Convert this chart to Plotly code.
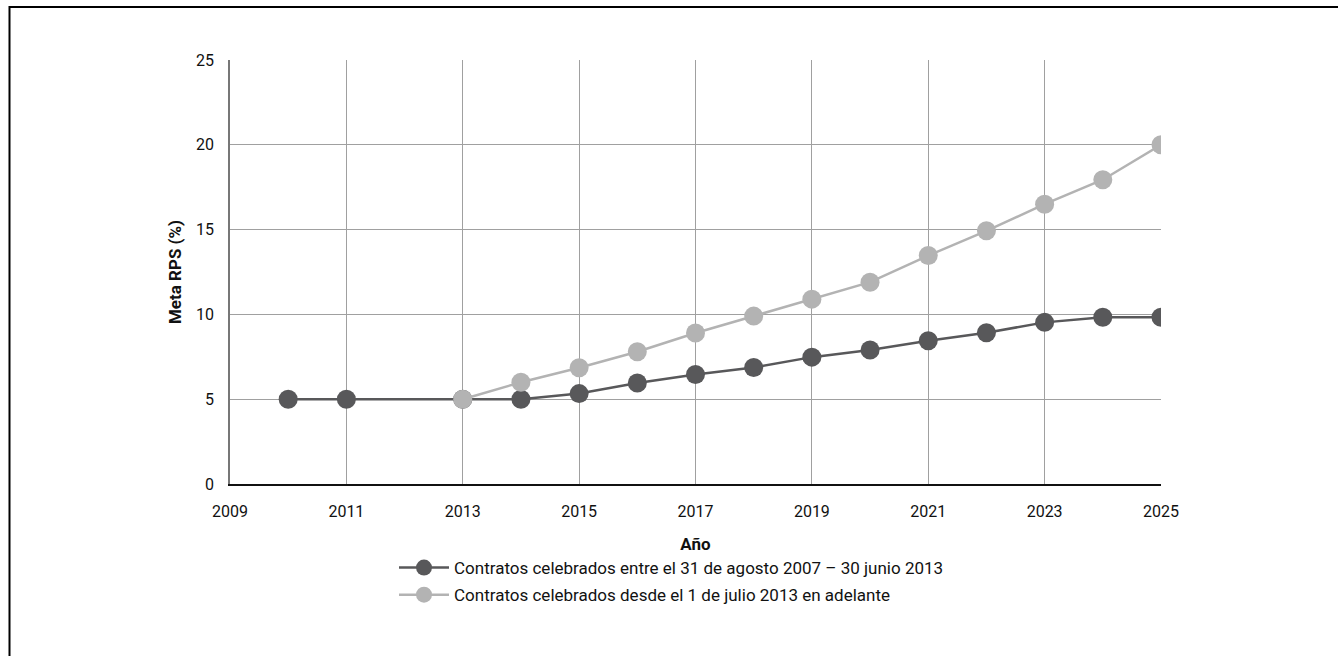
import plotly.graph_objects as go

years_a = [2010, 2011, 2013, 2014, 2015, 2016, 2017, 2018, 2019, 2020, 2021, 2022, 2023, 2024, 2025]
vals_a = [5.0, 5.0, 5.0, 5.0, 5.33, 5.96, 6.46, 6.87, 7.48, 7.9, 8.45, 8.92, 9.53, 9.83, 9.83]
years_b = [2013, 2014, 2015, 2016, 2017, 2018, 2019, 2020, 2021, 2022, 2023, 2024, 2025]
vals_b = [5.0, 6.0, 6.85, 7.8, 8.9, 9.9, 10.9, 11.9, 13.47, 14.93, 16.5, 17.94, 20.0]
name_a = "Contratos celebrados entre el 31 de agosto 2007 – 30 junio 2013"
name_b = "Contratos celebrados desde el 1 de julio 2013 en adelante"
x_ticks = [2009, 2011, 2013, 2015, 2017, 2019, 2021, 2023, 2025]
y_ticks = [0, 5, 10, 15, 20, 25]

FONT = "Roboto, Liberation Sans Narrow, DejaVu Sans Condensed, sans-serif"
DARK = "#58585a"
LIGHT = "#b3b3b3"

W, H = 1338, 656
L, R, T, B = 230, 177, 60, 172
pw, ph = W - L - R, H - T - B

fig = go.Figure()
fig.add_trace(go.Scatter(x=years_a, y=vals_a, name=name_a, mode="lines+markers",
                         legendgroup="a",
                         line=dict(color=DARK, width=2.5),
                         marker=dict(color=DARK, size=19)))
fig.add_trace(go.Scatter(x=years_b, y=vals_b, name=name_b, mode="lines+markers",
                         legendgroup="b",
                         line=dict(color=LIGHT, width=2.5),
                         marker=dict(color=LIGHT, size=19)))

def px(xp):
    return (xp - L) / pw

def py(yp):
    return (H - B - yp) / ph

fig.add_shape(type="rect", xref="paper", yref="paper",
              x0=px(9.5), x1=px(1350), y0=py(670), y1=py(7),
              line=dict(color="black", width=2), fillcolor="rgba(0,0,0,0)", layer="below")

fig.update_layout(
    width=W, height=H,
    margin=dict(l=L, r=R, t=T, b=B, pad=0),
    paper_bgcolor="white", plot_bgcolor="white",
    font=dict(family=FONT, size=16, color="#111"),
    showlegend=True,
    legend=dict(x=px(394), y=py(550), xanchor="left", yanchor="top",
                orientation="v", font=dict(family=FONT, size=17, color="#111"),
                bgcolor="rgba(0,0,0,0)", itemwidth=50, tracegroupgap=2,
                traceorder="grouped"),
    xaxis=dict(range=[2009, 2025], tickvals=x_ticks, ticktext=[str(v) for v in x_ticks],
               showgrid=True, gridcolor="#a0a0a0", gridwidth=1,
               showline=True, linecolor="#111", linewidth=1.5,
               ticks="", ticklabelstandoff=12, zeroline=False,
               title=dict(text="<b>Año</b>", font=dict(family=FONT, size=17), standoff=18),
               tickfont=dict(family=FONT, size=16)),
    yaxis=dict(range=[0, 25], tickvals=y_ticks,
               showgrid=True, gridcolor="#a0a0a0", gridwidth=1,
               showline=True, linecolor="#777", linewidth=1.5,
               ticks="", ticklabelstandoff=11, zeroline=False,
               title=dict(text="<b>Meta RPS (%)</b>", font=dict(family=FONT, size=17), standoff=10),
               tickfont=dict(family=FONT, size=16)),
)

fig.write_html("out.html")
